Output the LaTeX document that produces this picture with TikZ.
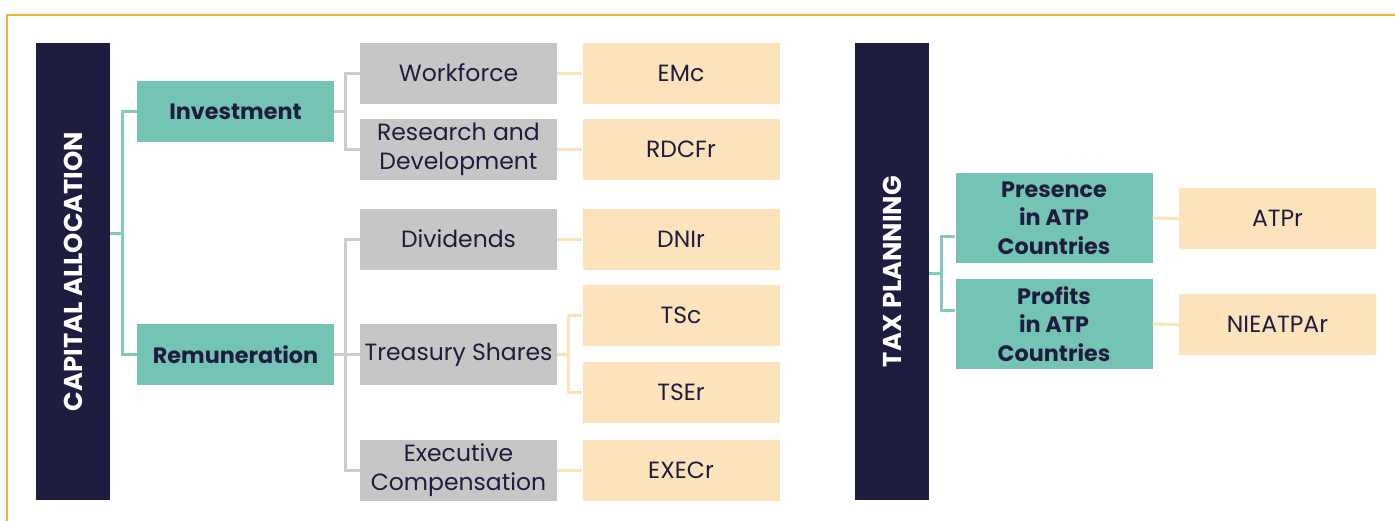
\documentclass[tikz,border=0pt]{standalone}
\usepackage{fontspec}
\setmainfont{Poppins}
\usetikzlibrary{positioning}

\definecolor{inkNavy}{HTML}{1E1D3F}
\definecolor{barNavy}{HTML}{1F1D3F}
\definecolor{mintFill}{HTML}{74C4B6}
\definecolor{greyFill}{HTML}{C6C6C6}
\definecolor{peachFill}{HTML}{FDE3BC}
\definecolor{frameGold}{HTML}{F2B134}

\newcommand\boxfont{\fontsize{23.5}{28.5}\selectfont}
\newcommand\topicfont{\fontsize{22.3}{28.5}\selectfont\bfseries}
\newcommand\barfont{\fontsize{25.8}{30}\selectfont\bfseries}

\begin{document}
\begin{tikzpicture}[x=1pt,y=-1pt]
\tikzset{
  pillar/.style={
    fill=barNavy,
    minimum width=74pt,
                   minimum height=457pt,
                   inner sep=0pt,
                   text=white,
                   font=\barfont
    },
  topic/.style={
    fill=mintFill,
                   minimum width=197pt,
                   minimum height=61pt,
                   inner sep=0pt,
                   align=center,
                   text=inkNavy,
                   font=\topicfont
    },
  measure/.style={
    fill=greyFill,
                   minimum width=197pt,
                   minimum height=61pt,
                   inner sep=0pt,
                   align=center,
                   text=inkNavy,
                   font=\boxfont
    },
  proxy/.style={
    fill=peachFill,
                   minimum width=197pt,
                   minimum height=61pt,
                   inner sep=0pt,
                   text=inkNavy,
                   font=\boxfont
    },
  mintWire/.style={draw=mintFill!90!white, line width=3pt},
  greyWire/.style={draw=greyFill!90!white, line width=3pt},
  peachWire/.style={draw=peachFill, line width=3pt}
}
    \useasboundingbox (0,0) rectangle (1395,520);
    \draw[frameGold, line width=2pt] (7,15) rectangle (1420,545);

    \node (capital)[pillar] at (73,271.5) {\rotatebox{90}{CAPITAL ALLOCATION}};
    \node (tax)[pillar] at (892,271.5) {\rotatebox{90}{TAX PLANNING}};

    \node (invest)[topic] at (235.5,111.5) {Investment};
    \node (remun)[topic] at (235.5,354.5) {Remuneration};

    \node (workforce)[measure] at (458.5,73) {Workforce};
    \node (research)[measure] at (458.5,149.5) {Research and\\Development};
    \node (dividends)[measure] at (458.5,239) {Dividends};
    \node (treasury)[measure] at (458.5,354.5) {Treasury Shares};
    \node (executive)[measure] at (458.5,470) {Executive\\Compensation};

    \node (emc)[proxy] at (681,73) {EMc};
    \node (rdcfr)[proxy] at (681,149.5) {RDCFr};
    \node (dnir)[proxy] at (681,239) {DNIr};
    \node (tsc)[proxy] at (681,315) {TSc};
    \node (tser)[proxy] at (681,392) {TSEr};
    \node (execr)[proxy] at (681,470) {EXECr};

    \node (presence)[topic, minimum height=90pt] at (1054,218) {Presence\\in ATP\\Countries};
    \node (profits)[topic, minimum height=90pt] at (1054,324) {Profits\\in ATP\\Countries};

    \node (atpr)[proxy] at (1277.5,218.5) {ATPr};
    \node (nieatpar)[proxy] at (1277.5,324.5) {NIEATPAr};

    \coordinate (capFork) at (122,233);
    \coordinate (invFork) at (345,111.5);
    \coordinate (remFork) at (345,354.5);
    \coordinate (tsFork) at (568,354.5);
    \coordinate (taxFork) at (941,273);

    % capital allocation branches
    \draw[mintWire] (capital.east |- capFork) -- (capFork);
    \draw[mintWire] (invest.west) -| (capFork) |- (remun.west);

    \draw[greyWire] (invest.east) -- (invFork);
    \draw[greyWire] (workforce.west) -| (invFork) |- (research.west);
    \draw[greyWire] (remun.east) -- (treasury.west);
    \draw[greyWire] (dividends.west) -| (remFork) |- (executive.west);

    \draw[peachWire] (workforce.east) -- (emc.west);
    \draw[peachWire] (research.east) -- (rdcfr.west);
    \draw[peachWire] (dividends.east) -- (dnir.west);
    \draw[peachWire] (treasury.east) -- (tsFork);
    \draw[peachWire] (tsc.west) -| (tsFork) |- (tser.west);
    \draw[peachWire] (executive.east) -- (execr.west);

    % tax planning branches
    \draw[mintWire] (tax.east |- taxFork) -- (taxFork);
    \draw[mintWire] ([yshift=-18pt]presence.west) -| (taxFork) |- ([yshift=14pt]profits.west);
    \draw[peachWire] (presence.east) -- (atpr.west);
    \draw[peachWire] (profits.east) -- (nieatpar.west);

\end{tikzpicture}
\end{document}
